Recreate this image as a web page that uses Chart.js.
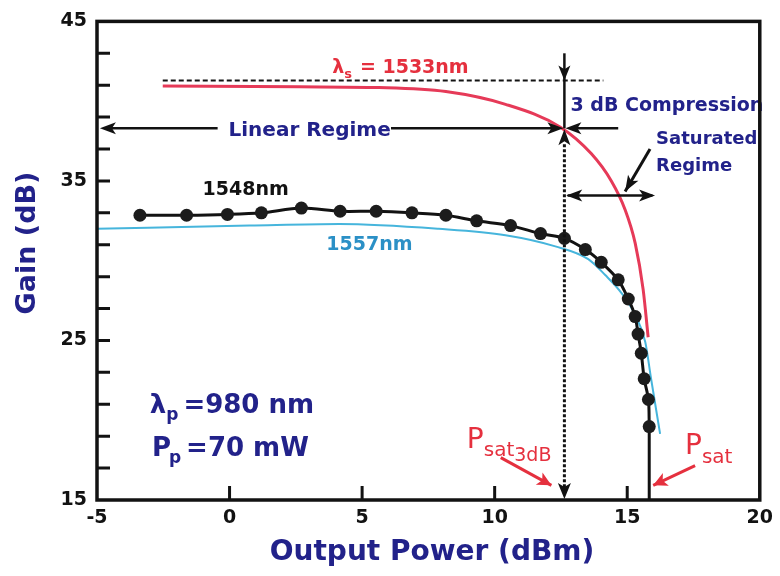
<!DOCTYPE html>
<html><head><meta charset="utf-8">
<script src="https://cdn.jsdelivr.net/npm/chart.js@4/dist/chart.umd.min.js"></script>
<style>html,body{margin:0;padding:0;background:#fff}</style>
</head><body>
<canvas id="c" width="780" height="576"></canvas>
<script>
// ---- data ----
const xTickValues = [-5, 0, 5, 10, 15, 20];
const yTickValues = [15, 25, 35, 45];
const yMinorTicks = [17, 19, 21, 23, 27, 29, 31, 33, 37, 39, 41, 43];
const xInnerTicks = [0, 5, 10, 15];

const power1548 = [-3.38, -1.62, -0.08, 1.20, 2.71, 4.17, 5.53, 6.88, 8.16, 9.32, 10.60, 11.73, 12.63, 13.42, 14.02, 14.66, 15.04, 15.30, 15.41, 15.53, 15.64, 15.80, 15.83];
const gain1548  = [32.85, 32.85, 32.9, 33.0, 33.3, 33.1, 33.1, 33.0, 32.85, 32.5, 32.2, 31.7, 31.4, 30.7, 29.9, 28.8, 27.6, 26.5, 25.4, 24.2, 22.6, 21.3, 19.6];

const power1533 = [-2.52, 2.63, 5.64, 8.16, 10.41, 12.48, 13.65, 14.40, 14.92, 15.30, 15.60, 15.79];
const gain1533  = [40.95, 40.9, 40.85, 40.6, 39.8, 38.37, 36.7, 35.0, 33.2, 31.1, 28.2, 25.2];

const power1557 = [-5, 0.75, 4.14, 7.89, 10.41, 12.29, 13.53, 14.17, 14.77, 15.30, 15.68, 15.90, 16.24];
const gain1557  = [32.0, 32.2, 32.3, 32.0, 31.6, 30.9, 30.1, 29.1, 28.0, 26.6, 24.9, 22.6, 19.15];

const p3dB = 12.63;      // 3 dB compression output power
const pSat = 15.83;      // saturation output power
const refGain = 41.3;    // small-signal gain reference (dashed)
const compGain = 38.3;   // gain at 3 dB compression
const satGain = 34.09;   // level of saturated-regime double arrow

const pts = (xs, ys) => xs.map((v, i) => ({x: v, y: ys[i]}));

const FONT = 'DejaVu Sans';
const BLUE = '#22228a', RED = '#e5303e', REDLINE = '#e63a58', CYAN = '#46b5dc', CYANTXT = '#2b90c6', INK = '#121212';

const decor = {
  id: 'decor',
  afterDatasetsDraw(chart) {
    const {ctx, chartArea: a, scales: {x, y}} = chart;
    const X = v => x.getPixelForValue(v), Y = v => y.getPixelForValue(v);
    ctx.save();
    const seg = (x1, y1, x2, y2, w, c, dash) => {
      ctx.beginPath(); ctx.setLineDash(dash || []); ctx.lineWidth = w; ctx.strokeStyle = c;
      ctx.moveTo(x1, y1); ctx.lineTo(x2, y2); ctx.stroke(); ctx.setLineDash([]);
    };
    const head = (tx, ty, fx, fy, len, half, c) => {
      const ang = Math.atan2(ty - fy, tx - fx);
      const bx = tx - len * Math.cos(ang), by = ty - len * Math.sin(ang);
      const nx = -Math.sin(ang) * half, ny = Math.cos(ang) * half;
      ctx.beginPath(); ctx.fillStyle = c;
      ctx.moveTo(tx, ty); ctx.lineTo(bx + nx, by + ny); ctx.lineTo(bx + len*0.25*Math.cos(ang), by + len*0.25*Math.sin(ang)); ctx.lineTo(bx - nx, by - ny);
      ctx.closePath(); ctx.fill();
    };
    const arrow = (x1, y1, x2, y2, w, c, len, half) => { seg(x1, y1, x2, y2, w, c); head(x2, y2, x1, y1, len, half, c); };
    const txt = (s, px, py, size, weight, c, align) => {
      ctx.font = `${weight} ${size}px "${FONT}"`; ctx.fillStyle = c; ctx.textAlign = align || 'left'; ctx.textBaseline = 'alphabetic';
      ctx.fillText(s, px, py); return ctx.measureText(s).width;
    };

    // dashed small-signal reference line
    seg(X(-2.52), Y(refGain), X(14.1), Y(refGain), 2, INK, [5, 3]);

    // vertical construction at P_sat,3dB
    const cx = X(p3dB), cy = Y(compGain);
    seg(cx, Y(43.0), cx, cy, 2.5, INK);
    head(cx, Y(refGain), cx, Y(43.0), 15, 6, INK);
    head(cx, cy + 1, cx, cy + 20, 16, 6, INK);
    seg(cx, cy + 16, cx, a.bottom - 12, 3, INK, [3, 2]);
    head(cx, a.bottom - 1, cx, a.bottom - 30, 16, 6.5, INK);

    // linear regime arrows
    head(X(-4.89), cy, X(-3), cy, 16, 6, INK);
    seg(X(-4.6), cy, X(-0.45), cy, 2.5, INK);
    seg(X(6.09), cy, cx - 8, cy, 2.5, INK);
    head(cx - 1, cy, cx - 30, cy, 16, 6, INK);
    seg(X(14.66), cy, cx + 8, cy, 2.5, INK);
    head(cx + 1, cy, cx + 30, cy, 16, 6, INK);

    // saturated regime double arrow
    const sy = Y(satGain);
    seg(X(12.75), sy, X(15.95), sy, 2.5, INK);
    head(X(12.7), sy, X(14), sy, 16, 6, INK);
    head(X(16.05), sy, X(15), sy, 16, 6, INK);
    arrow(X(15.86), Y(37.0), X(14.92), Y(34.34), 3, INK, 16, 6);

    // red P_sat arrows
    arrow(X(10.23), Y(17.66), X(12.14), Y(15.92), 3, RED, 14, 7);
    arrow(X(17.56), Y(17.16), X(15.98), Y(15.92), 3, RED, 14, 7);

    // texts
    let w = txt('\u03bb', X(3.87), Y(41.78), 19, 'bold', RED);
    let w2 = txt('s', X(3.87) + w, Y(41.78) + 5, 13, 'bold', RED);
    txt('= 1533nm', X(3.87) + w + w2 + 8, Y(41.78), 19, 'bold', RED);

    txt('Linear Regime', X(-0.04), Y(37.81), 20, 'bold', BLUE);
    txt('3 dB Compression', X(12.86), Y(39.36), 19, 'bold', BLUE);
    txt('Saturated', X(16.09), Y(37.31), 18, 'bold', BLUE);
    txt('Regime', X(16.09), Y(35.64), 18, 'bold', BLUE);

    txt('1548nm', X(-1.02), Y(34.09), 19, 'bold', INK);
    txt('1557nm', X(3.65), Y(30.68), 19, 'bold', CYANTXT);

    w = txt('\u03bb', X(-3.01), Y(20.45), 26, 'bold', BLUE);
    w2 = txt('p', X(-3.01) + w, Y(20.45) + 7, 17, 'bold', BLUE);
    txt('=980 nm', X(-3.01) + w + w2 + 5, Y(20.45), 26, 'bold', BLUE);
    w = txt('P', X(-2.93), Y(17.78), 26, 'bold', BLUE);
    w2 = txt('p', X(-2.93) + w - 2, Y(17.78) + 7, 17, 'bold', BLUE);
    txt('=70 mW', X(-2.93) + w + w2 + 3, Y(17.78), 26, 'bold', BLUE);

    w = txt('P', X(8.95), Y(18.28), 28, 'normal', RED);
    w2 = txt('sat', X(8.95) + w, Y(17.78), 20, 'normal', RED);
    txt('3dB', X(8.95) + w + w2, Y(17.47), 19, 'normal', RED);
    w = txt('P', X(17.18), Y(17.91), 28, 'normal', RED);
    txt('sat', X(17.18) + w, Y(17.35), 20, 'normal', RED);

    ctx.restore();
  },
  afterDraw(chart) {
    const {ctx, chartArea: a, scales: {x, y}} = chart;
    ctx.save();
    ctx.strokeStyle = INK; ctx.lineWidth = 3.5;
    ctx.strokeRect(a.left, a.top, a.right - a.left, a.bottom - a.top);
    ctx.lineWidth = 3;
    ctx.beginPath();
    [...yMinorTicks, 25, 35].forEach(v => { const py = y.getPixelForValue(v); ctx.moveTo(a.left, py); ctx.lineTo(a.left + 13, py); });
    xInnerTicks.forEach(v => { const px = x.getPixelForValue(v); ctx.moveTo(px, a.bottom); ctx.lineTo(px, a.bottom - 14); });
    ctx.stroke();
    // axis titles
    ctx.fillStyle = BLUE; ctx.textAlign = 'center'; ctx.textBaseline = 'middle';
    ctx.font = `bold 28px "${FONT}"`;
    ctx.fillText('Output Power (dBm)', 432, 553);
    ctx.translate(28, 243); ctx.rotate(-Math.PI / 2);
    ctx.font = `bold 27px "${FONT}"`;
    ctx.fillText('Gain (dB)', 0, 0);
    ctx.restore();
  }
};

const tickFont = {family: FONT, size: 19, weight: 'bold'};

new Chart(document.getElementById('c'), {
  type: 'scatter',
  data: {
    datasets: [
      {label: '1548nm', data: pts(power1548, gain1548), showLine: true, borderColor: INK, borderWidth: 3,
       pointRadius: 6.5, pointBackgroundColor: '#1c1c1c', pointBorderWidth: 0, tension: 0.3},
      {label: 'Psat', data: [{x: pSat, y: 19.6}, {x: pSat, y: 15}], showLine: true, borderColor: INK, borderWidth: 3, pointRadius: 0},
      {label: '1557nm', data: pts(power1557, gain1557), showLine: true, borderColor: CYAN, borderWidth: 2,
       pointRadius: 0, cubicInterpolationMode: 'monotone'},
      {label: '1533nm', data: pts(power1533, gain1533), showLine: true, borderColor: REDLINE, borderWidth: 3,
       pointRadius: 0, cubicInterpolationMode: 'monotone'}
    ]
  },
  options: {
    responsive: false, animation: false, devicePixelRatio: 1,
    layout: {padding: {top: 15, right: 18, left: 0, bottom: 0}},
    plugins: {legend: {display: false}, tooltip: {enabled: false}},
    scales: {
      x: {
        type: 'linear', min: -5, max: 20,
        afterBuildTicks: s => { s.ticks = xTickValues.map(v => ({value: v})); },
        afterFit: s => { s.height = 76; },
        grid: {display: false, drawTicks: false}, border: {display: false},
        ticks: {padding: 7, font: tickFont, color: INK, autoSkip: false, maxRotation: 0}
      },
      y: {
        type: 'linear', min: 15, max: 45,
        afterBuildTicks: s => { s.ticks = yTickValues.map(v => ({value: v})); },
        afterFit: s => { s.width = 97; },
        grid: {display: false, drawTicks: false}, border: {display: false},
        ticks: {padding: 10, font: tickFont, color: INK, autoSkip: false}
      }
    }
  },
  plugins: [decor]
});
</script>
</body></html>
